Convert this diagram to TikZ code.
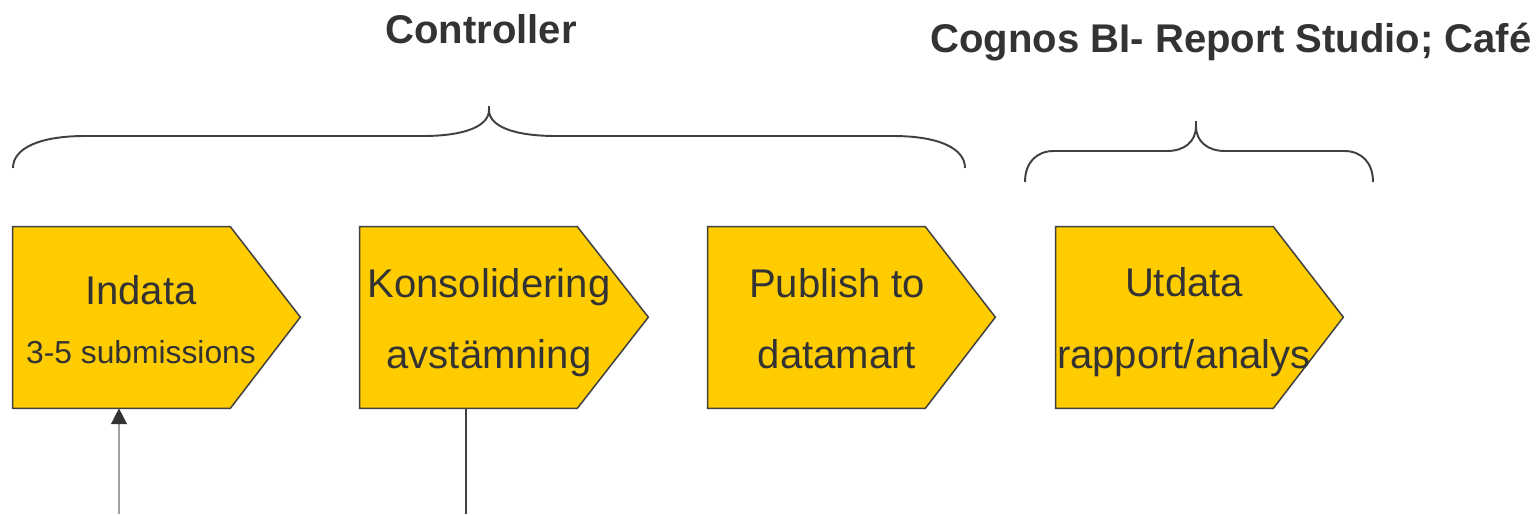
\documentclass[tikz,border=0pt]{standalone}
\usepackage{fontspec}
\setmainfont{Liberation Sans}
\usepackage{tikz}
\usetikzlibrary{positioning,arrows.meta,calc}

\definecolor{stageyellow}{HTML}{FFCC00}
\definecolor{textgray}{HTML}{333333}
\definecolor{linegray}{HTML}{404040}
\definecolor{feedgray}{HTML}{A0A0A0}

\tikzset{
  stagebody/.style = {draw=none, minimum width=4.34cm, minimum height=3.62cm, inner sep=0pt},
  stagebox/.style = {draw=linegray, fill=stageyellow, line width=0.85pt, line join=miter},
  big/.style = {text=textgray, anchor=base, inner sep=0pt, font=\fontsize{22.8}{27}\selectfont},
  small/.style = {text=textgray, anchor=base, inner sep=0pt, font=\fontsize{18.1}{22}\selectfont},
  title/.style = {text=textgray, anchor=base, inner sep=0pt, font=\fontsize{22.8}{27}\selectfont\bfseries},
  curly/.style = {draw=linegray, line width=1.1pt}
}

\begin{document}
\begin{tikzpicture}[x=0.02cm, y=-0.02cm]
            \useasboundingbox (0,0) rectangle (1537,514);

            % rectangular parts of the four stages
            \node[stagebody] (i) at (121.5,317.5) {};
            \node[stagebody] (k) at (468.5,317.5) {};
            \node[stagebody] (p) at (816.5,317.5) {};
            \node[stagebody] (u) at (1164.5,317.5) {};

            \draw[stagebox] (i.north west) -- (i.north east) -- ++(70,90.5) -- (i.south east) -- (i.south west) -- cycle;
            \draw[stagebox] (k.north west) -- (k.north east) -- ++(71,90.5) -- (k.south east) -- (k.south west) -- cycle;
            \draw[stagebox] (p.north west) -- (p.north east) -- ++(70,90.5) -- (p.south east) -- (p.south west) -- cycle;
            \draw[stagebox] (u.north west) -- (u.north east) -- ++(70,90.5) -- (u.south east) -- (u.south west) -- cycle;

            \node[big] (i1) at (141,304) {Indata};
            \node[small] (i2) at (141,363) {3-5 submissions};
            \node[big] (k1) at (489,297) {Konsolidering};
            \node[big] (k2) at (489,368) {avstämning};
            \node[big] (p1) at (837,297) {Publish to};
            \node[big] (p2) at (837,368) {datamart};
            \node[big] (u1) at (1184,296) {Utdata};
            \node[big] (u2) at (1184,368) {rapport/analys};

            % titles and braces
            \node[title] (c) at (481,43) {Controller};
            \node[title] (b) at (1231,52) {Cognos BI- Report Studio; Café};

            \draw[curly] (13,168) .. controls (13,148) and (40,136) .. (85,136) -- (423,136)
                .. controls (465,136) and (489,126) .. (489,110) -- (489,106) -- (489,110)
                .. controls (489,126) and (513,136) .. (556,136) -- (893,136)
                .. controls (938,136) and (965,148) .. (965,168);
            \draw[curly] (1025,182) .. controls (1025,163) and (1036,151) .. (1054,151) -- (1167,151)
                .. controls (1184,151) and (1196,142) .. (1196,126) -- (1196,121) -- (1196,126)
                .. controls (1196,142) and (1208,151) .. (1225,151) -- (1344,151)
                .. controls (1362,151) and (1373,163) .. (1373,182);

            % feeds below
            \coordinate (f) at (119,514);
            \coordinate (g) at (466,514);
            \draw[feedgray, line width=0.85pt, -{Triangle[length=9pt, width=9pt, color=textgray]}] (f) -- (f |- i.south);
            \draw[linegray, line width=0.7pt] (g |- k.south) -- (g);

        \end{tikzpicture}
\end{document}
